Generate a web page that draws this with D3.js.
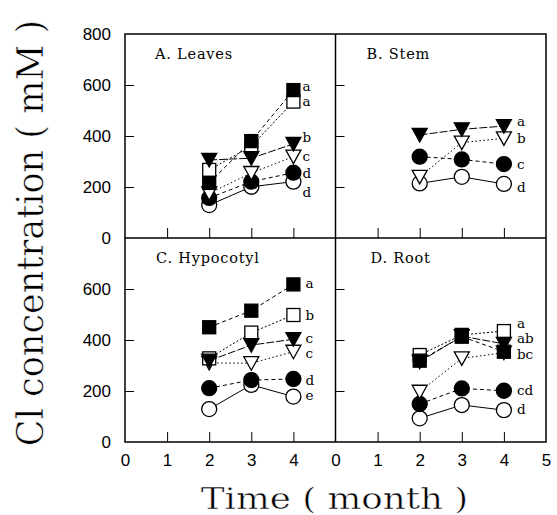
<!DOCTYPE html>
<html>
<head>
<meta charset="utf-8">
<script src="https://cdn.jsdelivr.net/npm/d3@7"></script>
<style>
  body { margin: 0; background: #fff; }
</style>
</head>
<body>
<div class="canvas"></div>
<script>
const width = 557;
const height = 515;

const months = [2, 3, 4];
// series order: filled square, open square, filled triangle, open triangle, filled circle, open circle
const seriesKeys = ['sqF', 'sqO', 'triF', 'triO', 'cirF', 'cirO'];

// values per series (months 2, 3, 4), mM
const leaves = [[216, 380, 580], [267, 360, 535], [306, 313, 369], [175, 255, 319], [157, 221, 256], [129, 201, 221]];
const stem = [null, null, [404, 426, 439], [240, 374, 391], [319, 308, 290], [214, 240, 212]];
const hypocotyl = [[450, 515, 618], [328, 429, 498], [319, 380, 403], [310, 309, 354], [211, 243, 247], [129, 224, 178]];
const root = [[319, 413, 354], [341, 420, 435], [315, 415, 385], [197, 328, 350], [149, 210, 201], [93, 145, 125]];

// significance letters beside month 4: [letter, value]
const leavesLetters = [['a', 595], ['a', 537], ['b', 395], ['c', 321], ['d', 253], ['d', 178]];
const stemLetters = [['a', 455], ['b', 389], ['c', 290], ['d', 200]];
const hypocotylLetters = [['a', 623], ['b', 498], ['c', 407], ['c', 347], ['d', 243], ['e', 184]];
const rootLetters = [['a', 464], ['ab', 406], ['bc', 345], ['cd', 202], ['d', 127]];

const panelTitles = ['A.  Leaves', 'B.  Stem', 'C.  Hypocotyl', 'D.  Root'];
const yTicksTop = [0, 200, 400, 600, 800];
const yTicksBottom = [0, 200, 400, 600];
const xTicksLeft = [0, 1, 2, 3, 4];
const xTicksRight = [0, 1, 2, 3, 4, 5];

const dashes = { sqF: '4,3', sqO: '2,2', triF: '8,2', triO: '1.5,2.5', cirF: '4,3', cirO: null };
const drawOrder = [5, 4, 3, 1, 0, 2];

const svg = d3
  .select('.canvas')
  .append('svg')
  .attr('width', width)
  .attr('height', height);

const xLeft = d3.scaleLinear().domain([0, 5]).range([125, 335.5]);
const xRight = d3.scaleLinear().domain([0, 5]).range([335.5, 546]);
const yTop = d3.scaleLinear().domain([0, 800]).range([238, 34]);
const yBottom = d3.scaleLinear().domain([0, 800]).range([442, 238]);

const panels = [
  { data: leaves, letters: leavesLetters, x: xLeft, y: yTop, gap: 9, tx: 30 },
  { data: stem, letters: stemLetters, x: xRight, y: yTop, gap: 13, tx: 31 },
  { data: hypocotyl, letters: hypocotylLetters, x: xLeft, y: yBottom, gap: 12, tx: 31 },
  { data: root, letters: rootLetters, x: xRight, y: yBottom, gap: 13, tx: 35 }
];

function symbol(g, key, cx, cy) {
  const filled = key.endsWith('F') ? '#000' : '#fff';
  if (key.startsWith('sq')) {
    g.append('rect').attr('x', cx - 6.5).attr('y', cy - 6.5).attr('width', 13).attr('height', 13)
      .attr('fill', filled).attr('stroke', '#000').attr('stroke-width', 1.3);
  } else if (key.startsWith('tri')) {
    g.append('path').attr('d', `M${cx - 7.5},${cy - 6.5}L${cx + 7.5},${cy - 6.5}L${cx},${cy + 7}Z`)
      .attr('fill', filled).attr('stroke', '#000').attr('stroke-width', 1.3);
  } else {
    g.append('circle').attr('cx', cx).attr('cy', cy).attr('r', 7.5)
      .attr('fill', filled).attr('stroke', '#000').attr('stroke-width', 1.3);
  }
}

panels.forEach((p, i) => {
  const g = svg.append('g');
  const [x0] = p.x.range();
  const [yb, yt] = p.y.range();

  // inward ticks
  g.append('g').attr('transform', `translate(${x0},0)`)
    .call(d3.axisRight(p.y).tickValues([200, 400, 600]).tickSize(9).tickFormat(''))
    .call((a) => a.select('.domain').remove());
  g.append('g').attr('transform', `translate(0,${yb})`)
    .call(d3.axisTop(p.x).tickValues([1, 2, 3, 4]).tickSize(10).tickFormat(''))
    .call((a) => a.select('.domain').remove());

  g.append('text')
    .attr('x', x0 + p.tx)
    .attr('y', yt + 25)
    .style('font-family', '"DejaVu Serif", serif')
    .style('font-size', '14.5px')
    .style('letter-spacing', '0.8px')
    .text(panelTitles[i]);

  const line = d3.line().x((d, j) => p.x(months[j])).y((d) => p.y(d));

  p.data.forEach((vals, s) => {
    if (!vals) return;
    g.append('path')
      .datum(vals)
      .attr('d', line)
      .attr('fill', 'none')
      .attr('stroke', '#000')
      .attr('stroke-width', 1)
      .attr('stroke-dasharray', dashes[seriesKeys[s]]);
  });

  drawOrder.forEach((s) => {
    const vals = p.data[s];
    if (!vals) return;
    vals.forEach((v, j) => symbol(g, seriesKeys[s], p.x(months[j]), p.y(v)));
  });

  g.selectAll('text.letter')
    .data(p.letters)
    .enter()
    .append('text')
    .attr('class', 'letter')
    .attr('x', p.x(4) + p.gap)
    .attr('y', (d) => p.y(d[1]) + 4.5)
    .style('font-family', '"DejaVu Serif", serif')
    .style('font-size', '13.5px')
    .text((d) => d[0]);
});

// frame
svg.append('rect').attr('x', 125).attr('y', 34).attr('width', 421).attr('height', 408)
  .attr('fill', 'none').attr('stroke', '#000').attr('stroke-width', 1.5);
svg.append('line').attr('x1', 335.5).attr('x2', 335.5).attr('y1', 34).attr('y2', 442)
  .attr('stroke', '#000').attr('stroke-width', 1.5);
svg.append('line').attr('x1', 125).attr('x2', 546).attr('y1', 238).attr('y2', 238)
  .attr('stroke', '#000').attr('stroke-width', 1.5);

// tick labels
const tickFont = (a) => a.selectAll('text')
  .style('font-family', '"Liberation Sans", Arial, sans-serif')
  .style('font-size', '17px')
  .attr('fill', '#000');

svg.append('g').attr('transform', 'translate(125,0)')
  .call(d3.axisLeft(yTop).tickValues(yTicksTop).tickSize(0).tickPadding(14).tickFormat(d3.format('d')))
  .call((a) => a.select('.domain').remove())
  .call(tickFont);
svg.append('g').attr('transform', 'translate(125,0)')
  .call(d3.axisLeft(yBottom).tickValues(yTicksBottom).tickSize(0).tickPadding(14).tickFormat(d3.format('d')))
  .call((a) => a.select('.domain').remove())
  .call(tickFont);
svg.append('g').attr('transform', 'translate(0,442)')
  .call(d3.axisBottom(xLeft).tickValues(xTicksLeft).tickSize(0).tickPadding(12).tickFormat(d3.format('d')))
  .call((a) => a.select('.domain').remove())
  .call(tickFont);
svg.append('g').attr('transform', 'translate(0,442)')
  .call(d3.axisBottom(xRight).tickValues(xTicksRight).tickSize(0).tickPadding(12).tickFormat(d3.format('d')))
  .call((a) => a.select('.domain').remove())
  .call(tickFont);

// axis titles
svg.append('text')
  .attr('transform', 'translate(43,233) rotate(-90) scale(1.21,1.3)')
  .attr('text-anchor', 'middle')
  .style('font-family', '"DejaVu Serif", serif')
  .style('font-size', '29px')
  .style('stroke', '#fff')
  .style('stroke-width', '0.5px')
  .style('paint-order', 'normal')
  .text('Cl concentration ( mM )');

svg.append('text')
  .attr('transform', 'translate(334.5,509) scale(1.23,1)')
  .attr('text-anchor', 'middle')
  .style('font-family', '"DejaVu Serif", serif')
  .style('font-size', '29px')
  .style('stroke', '#fff')
  .style('stroke-width', '0.5px')
  .text('Time ( month )');
</script>
</body>
</html>
